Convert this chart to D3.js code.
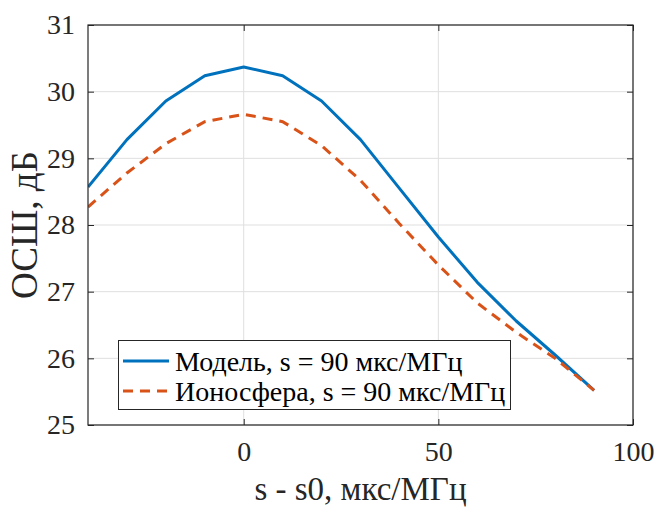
<!DOCTYPE html>
<html>
<head>
<meta charset="utf-8">
<script src="https://cdn.jsdelivr.net/npm/d3@7"></script>
<style>
  html, body { margin: 0; padding: 0; background: #fff; }
  svg { display: block; }
</style>
</head>
<body>
<svg id="chart" width="658" height="507"></svg>
<script>
// Offset of the chirp rate from the nominal value, мкс/МГц
const offsets = [-40, -30, -20, -10, 0, 10, 20, 30, 40, 50, 60, 70, 80, 90];
// SNR for the model and for the ionospheric channel, дБ
const modelSnr = [28.57, 29.28, 29.86, 30.24, 30.37, 30.24, 29.86, 29.28, 28.55, 27.82, 27.14, 26.56, 26.05, 25.52];
const ionoSnr  = [28.27, 28.78, 29.22, 29.55, 29.66, 29.55, 29.19, 28.67, 28.02, 27.40, 26.83, 26.39, 26.00, 25.52];

const xTicks = [0, 50, 100];
const yTicks = [25, 26, 27, 28, 29, 30, 31];
const seriesNames = ["Модель, s = 90 мкс/МГц", "Ионосфера, s = 90 мкс/МГц"];
const xTitle = "s - s0, мкс/МГц";
const yTitle = "ОСШ, дБ";

const FONT = "Liberation Serif, DejaVu Serif, Times New Roman, serif";

const svg = d3.select("#chart");
const m = { left: 88, right: 633, top: 25, bottom: 425 };

const x = d3.scaleLinear().domain([-40, 100]).range([m.left, m.right]);
const y = d3.scaleLinear().domain([25, 31]).range([m.bottom, m.top]);

const axisColor = "#262626";
const gridColor = "#dfdfdf";
const fmt = d3.format("d");

// grid
const grid = svg.append("g");
grid.selectAll("line.gx").data(xTicks).join("line")
  .attr("x1", d => x(d)).attr("x2", d => x(d))
  .attr("y1", m.top).attr("y2", m.bottom)
  .attr("stroke", gridColor).attr("stroke-width", 1);
grid.selectAll("line.gy").data(yTicks).join("line")
  .attr("x1", m.left).attr("x2", m.right)
  .attr("y1", d => y(d)).attr("y2", d => y(d))
  .attr("stroke", gridColor).attr("stroke-width", 1);

// lines
const clipId = "plotclip";
svg.append("clipPath").attr("id", clipId).append("rect")
  .attr("x", m.left).attr("y", m.top).attr("width", m.right - m.left).attr("height", m.bottom - m.top);

const line = d3.line().x(d => x(d[0])).y(d => y(d[1]));
const plot = svg.append("g").attr("clip-path", `url(#${clipId})`);
plot.append("path")
  .datum(offsets.map((o, i) => [o, modelSnr[i]]))
  .attr("d", line).attr("fill", "none")
  .attr("stroke", "#0072BD").attr("stroke-width", 3).attr("stroke-linejoin", "round");
plot.append("path")
  .datum(offsets.map((o, i) => [o, ionoSnr[i]]))
  .attr("d", line).attr("fill", "none")
  .attr("stroke", "#D95319").attr("stroke-width", 3).attr("stroke-dasharray", "10,7");

// axes (box with inward ticks)
const tickLen = 6;
const axB = d3.axisBottom(x).tickValues(xTicks).tickSizeInner(-tickLen).tickSizeOuter(0).tickPadding(16).tickFormat(fmt);
const axT = d3.axisTop(x).tickValues(xTicks).tickSizeInner(-tickLen).tickSizeOuter(0).tickFormat("");
const axL = d3.axisLeft(y).tickValues(yTicks).tickSizeInner(-tickLen).tickSizeOuter(0).tickPadding(13).tickFormat(fmt);
const axR = d3.axisRight(y).tickValues(yTicks).tickSizeInner(-tickLen).tickSizeOuter(0).tickFormat("");

function style(g) {
  g.attr("font-family", FONT).attr("font-size", 28);
  g.select(".domain").remove();
  g.selectAll("line").attr("stroke", axisColor);
  g.selectAll("text").attr("fill", axisColor).attr("font-family", FONT).attr("font-size", 28);
}
svg.append("g").attr("transform", `translate(0,${m.bottom})`).call(axB).call(style);
svg.append("g").attr("transform", `translate(0,${m.top})`).call(axT).call(style);
svg.append("g").attr("transform", `translate(${m.left},0)`).call(axL).call(style);
svg.append("g").attr("transform", `translate(${m.right},0)`).call(axR).call(style);

svg.append("rect")
  .attr("x", m.left).attr("y", m.top).attr("width", m.right - m.left).attr("height", m.bottom - m.top)
  .attr("fill", "none").attr("stroke", axisColor).attr("stroke-width", 1.2);

// titles
svg.append("text").attr("x", (m.left + m.right) / 2).attr("y", 500)
  .attr("text-anchor", "middle").attr("fill", axisColor)
  .attr("font-family", FONT).attr("font-size", 33).text(xTitle);
svg.append("text").attr("transform", `translate(37,${(m.top + m.bottom) / 2}) rotate(-90)`)
  .attr("text-anchor", "middle").attr("fill", axisColor)
  .attr("font-family", FONT).attr("font-size", 37).text(yTitle);

// legend
const lg = svg.append("g");
lg.append("rect").attr("x", 118.5).attr("y", 340.5).attr("width", 392).attr("height", 69)
  .attr("fill", "#fff").attr("stroke", axisColor).attr("stroke-width", 1);
const colors = ["#0072BD", "#D95319"];
const dashes = [null, "10,7"];
seriesNames.forEach((name, i) => {
  const cy = 361 + i * 30;
  lg.append("line").attr("x1", 123).attr("x2", 169).attr("y1", cy).attr("y2", cy)
    .attr("stroke", colors[i]).attr("stroke-width", 3).attr("stroke-dasharray", dashes[i]);
  lg.append("text").attr("x", 175).attr("y", cy).attr("dy", "0.34em")
    .attr("fill", "#000").attr("font-family", FONT).attr("font-size", 28).text(name);
});
</script>
</body>
</html>
